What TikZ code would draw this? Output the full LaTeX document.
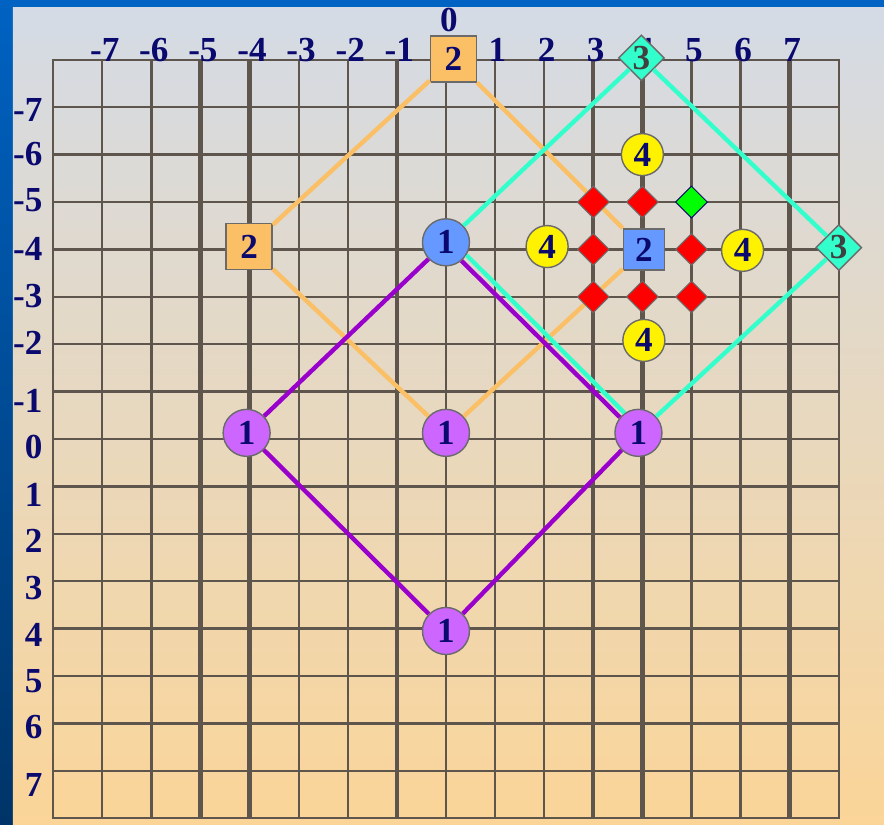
\documentclass[tikz,border=0pt]{standalone}
\usepackage{fontspec}
\setmainfont{Liberation Serif}
\usetikzlibrary{shapes.geometric}
\definecolor{gridgray}{HTML}{5E564D}
\definecolor{labnavy}{HTML}{0A0A6E}
\definecolor{frameblue}{HTML}{0062C2}
\definecolor{framedark}{HTML}{003468}
\definecolor{paneltop}{HTML}{D4DBE6}
\definecolor{panelbot}{HTML}{FBD598}
\definecolor{ringgray}{HTML}{6A6A6A}
\definecolor{purpline}{HTML}{9900CC}
\definecolor{purpfill}{HTML}{CC66FF}
\definecolor{bluefill}{HTML}{6699FF}
\definecolor{orangec}{HTML}{FBBF66}
\definecolor{tealc}{HTML}{33FFCC}

\begin{document}
\begin{tikzpicture}[x=0.982cm, y=-0.948cm,
    num/.style={font=\fontsize{20}{21}\selectfont\bfseries, text=labnavy, inner sep=0pt},
    rule/.style={gridgray, line width=1.3pt, line cap=rect},
    boldrule/.style={gridgray, line width=2.5pt},
    onenode/.style={num, circle, draw=ringgray, line width=0.8pt, minimum size=0.94cm},
    twonode/.style={num, rectangle, draw=ringgray, line width=0.8pt, minimum size=0.92cm},
    threenode/.style={num, diamond, draw=ringgray, fill=tealc, line width=0.8pt,
                      minimum size=0.92cm, text=black!75},
    fournode/.style={num, circle, draw=ringgray, fill=yellow, line width=0.8pt, minimum size=0.84cm},
    gem/.style={diamond, draw=ringgray, fill=red, line width=0.6pt, minimum size=0.64cm, inner sep=0pt},
    link/.style={line width=2.5pt}
  ]
    \useasboundingbox (-9.083,-9.262) rectangle (8.921,8.143);
    \shade[top color=frameblue, bottom color=framedark] (-9.083,-9.262) rectangle (8.921,8.143);
    \shade[top color=paneltop, bottom color=panelbot] (-8.819,-9.114) rectangle (8.921,8.143);

    \foreach \x in {-8,...,8} \draw[rule] (\x,-8) -- (\x,8);
    \foreach \x in {-5,-4,-1,3,4,7} \draw[boldrule] (\x,-8) -- (\x,8);
    \foreach \y in {-8,...,8} \draw[rule] (-8,\y) -- (8,\y);

    \foreach \x in {-7,-6,-5,-4,-3,-2,-1,1,2,3,4,5,6,7}
      \node[num, anchor=base] (col\x) at (\x+0.05,-7.97) {\x};
    \node[num, anchor=base] (col0) at (0.06,-8.59) {0};
    \foreach \v/\p in {-7/-6.94,-6/-6.02,-5/-5.04,-4/-4.01,-3/-3.02,-2/-2.03,-1/-0.8,
                       0/0.17,1/1.18,2/2.15,3/3.14,4/4.14,5/5.11,6/6.08,7/7.3}
      \node[num, anchor=east] (row\v) at (-8.21,\p) {\v};

    \node[onenode, fill=purpfill] (oneL) at (-4.06,-0.13) {1};
    \node[onenode, fill=purpfill] (oneC) at (0,-0.13) {1};
    \node[onenode, fill=purpfill] (oneR) at (3.92,-0.13) {1};
    \node[onenode, fill=purpfill] (oneB) at (0,4.05) {1};
    \node[onenode, fill=bluefill] (oneT) at (0,-4.15) {1};
    \node[twonode, fill=orangec] (twoT) at (0.15,-8.02) {2};
    \node[twonode, fill=orangec] (twoL) at (-4.01,-4.06) {2};
    \node[twonode, fill=bluefill, minimum size=0.82cm] (twoR) at (4.03,-4) {2};
    \node[threenode] (threeT) at (3.98,-8.04) {3};
    \node[threenode] (threeR) at (8,-4.04) {3};
    \node[fournode] (fourT) at (4,-6) {4};
    \node[fournode] (fourL) at (2.06,-4.06) {4};
    \node[fournode] (fourR) at (6.04,-3.98) {4};
    \node[fournode] (fourB) at (4.03,-2.08) {4};

    \draw[link, orangec] (twoT) -- (twoL);
    \draw[link, orangec] (twoL) -- (oneC);
    \draw[link, orangec] (oneC) -- (twoR);
    \draw[link, orangec] (twoR) -- (twoT);

    \draw[link, purpline] (oneL) -- (oneT);
    \draw[link, purpline] (oneT.-50) -- (oneR.140);
    \draw[link, purpline] (oneR) -- (oneB);
    \draw[link, purpline] (oneB) -- (oneL);

    \draw[link, tealc] (oneT) -- (threeT);
    \draw[link, tealc] (threeT) -- (threeR);
    \draw[link, tealc] (threeR) -- (oneR);
    \draw[link, tealc] (oneT.-32) -- (oneR.125);

    \foreach \gx/\gy [count=\i] in {3/-5,4/-5,3/-4,5/-4,3/-3,4/-3,5/-3}
      \node[gem] (gem\i) at (\gx,\gy) {};
    \node[gem, fill=green, draw=labnavy] (gemG) at (5,-5) {};
\end{tikzpicture}
\end{document}
